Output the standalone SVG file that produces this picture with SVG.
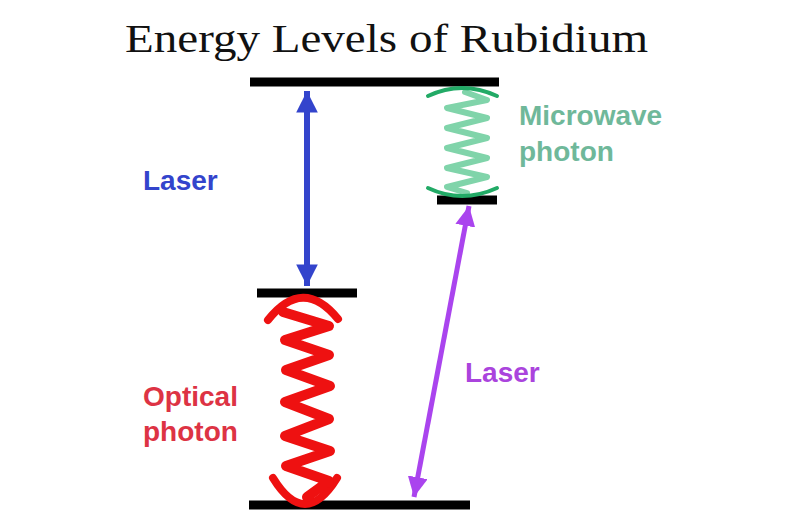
<svg xmlns="http://www.w3.org/2000/svg" width="800" height="530" viewBox="0 0 800 530">
<style>
.lvl{stroke:#000;stroke-width:9;stroke-linecap:butt}
.lbl{font-family:"Liberation Sans",Arial,sans-serif;font-weight:bold;font-size:28px}
.title{font-family:"Liberation Serif","Times New Roman",serif;font-size:40px;fill:#111}
</style>
<defs>
<marker id="bh" viewBox="0 0 10 10" refX="10" refY="5" markerWidth="3.6" markerHeight="3.6" orient="auto-start-reverse" markerUnits="strokeWidth">
<path d="M0,0 L10,5 L0,10 z" fill="#3344cc"/>
</marker>
<marker id="ph" viewBox="0 0 10 10" refX="10" refY="5" markerWidth="4" markerHeight="4" orient="auto-start-reverse" markerUnits="strokeWidth">
<path d="M0,0 L10,5 L0,10 z" fill="#aa44ee"/>
</marker>
</defs>
<rect width="800" height="530" fill="#fff"/>
<text class="title" x="125" y="52" textLength="523" lengthAdjust="spacingAndGlyphs">Energy Levels of Rubidium</text>
<g id="level-top"><line class="lvl" x1="250" y1="82" x2="499" y2="82"/></g>
<g id="level-microwave"><line class="lvl" x1="437" y1="200" x2="497" y2="200"/></g>
<g id="level-middle"><line class="lvl" x1="257" y1="293" x2="357" y2="293"/></g>
<g id="level-bottom"><line class="lvl" x1="249" y1="505" x2="470" y2="505"/></g>
<g id="optical-photon">
<path d="M268,320 Q303,276 338,319" fill="none" stroke="#ee1111" stroke-width="8" stroke-linecap="round"/>
<path d="M273,478 Q305,530 337,478" fill="none" stroke="#ee1111" stroke-width="8" stroke-linecap="round"/>
<polyline points="283,312 329,326 285,340 329,355 286,370 330,386 285,402 329,419 285,436 330,451 286,466 329,481 307,497" fill="none" stroke="#ee1111" stroke-width="10" stroke-linejoin="round" stroke-linecap="round"/>
<text class="lbl" fill="#dd3344" x="143" y="406">Optical</text>
<text class="lbl" fill="#dd3344" x="143" y="441">photon</text>
</g>
<g id="microwave-photon">
<polyline points="465,92 487,100 447,108 487,118 447,128 487,138 447,148 487,158 447,168 487,177 447,187 467,193" fill="none" stroke="#80d4aa" stroke-width="6" stroke-linejoin="round" stroke-linecap="round"/>
<path d="M428,96 Q462,80 497,96" fill="none" stroke="#22aa66" stroke-width="4" stroke-linecap="round"/>
<path d="M428,188 Q462,204 497,188" fill="none" stroke="#22aa66" stroke-width="4" stroke-linecap="round"/>
<text class="lbl" fill="#6fb89a" x="519" y="125">Microwave</text>
<text class="lbl" fill="#6fb89a" x="519" y="161">photon</text>
</g>
<g id="connectors">
<line x1="307" y1="91" x2="307" y2="286" stroke="#3344cc" stroke-width="6" marker-start="url(#bh)" marker-end="url(#bh)"/>
<line x1="469" y1="206" x2="414" y2="497" stroke="#aa44ee" stroke-width="5" marker-start="url(#ph)" marker-end="url(#ph)"/>
</g>
<g id="labels">
<text class="lbl" fill="#3344cc" x="143" y="190">Laser</text>
<text class="lbl" fill="#aa44dd" x="465" y="382">Laser</text>
</g>
</svg>
